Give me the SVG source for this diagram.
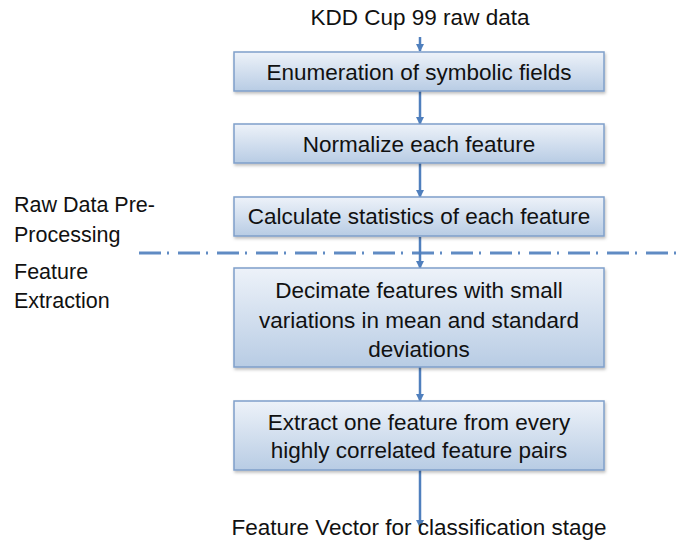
<svg xmlns="http://www.w3.org/2000/svg" width="681" height="542" viewBox="0 0 681 542">
<style>
text{font-family:"Liberation Sans",Arial,sans-serif;fill:#111;}
.t{font-size:22.5px;text-anchor:middle;}
.l{font-size:21.5px;}
.box{fill:url(#g);stroke:#7f9fca;stroke-width:1.5;filter:url(#sh);}
.arr{stroke:#4f7fbd;stroke-width:2.5;fill:none;marker-end:url(#ah);}
</style>
<defs>
<linearGradient id="g" x1="0" y1="0" x2="0" y2="1">
<stop offset="0" stop-color="#edf2f9"/>
<stop offset="1" stop-color="#b8cce4"/>
</linearGradient>
<filter id="sh" x="-5%" y="-10%" width="110%" height="130%">
<feDropShadow dx="1" dy="2" stdDeviation="1.5" flood-color="#000" flood-opacity="0.25"/>
</filter>
<marker id="ah" markerWidth="8" markerHeight="8" refX="7" refY="4" orient="auto" markerUnits="userSpaceOnUse" viewBox="0 0 8 8">
<path d="M0,0 L8,4 L0,8 Z" fill="#4f7fbd"/>
</marker>
</defs>
<g id="connectors">
<line class="arr" x1="420" y1="37" x2="420" y2="51"/>
<line class="arr" x1="420" y1="91" x2="420" y2="124"/>
<line class="arr" x1="420" y1="163" x2="420" y2="197"/>
<line class="arr" x1="420" y1="237" x2="420" y2="268"/>
<line class="arr" x1="420" y1="367" x2="420" y2="401"/>
<line class="arr" x1="420" y1="470" x2="420" y2="527"/>
</g>
<g id="divider">
<line x1="139" y1="253" x2="681" y2="253" stroke="#4f7fbd" stroke-width="3" stroke-dasharray="22 6 2 9" opacity="0.9"/>
</g>
<g id="input"><text class="t" x="420" y="25">KDD Cup 99 raw data</text></g>
<g id="n1"><rect class="box" x="234" y="52" width="370" height="39"/><text class="t" x="419" y="80">Enumeration of symbolic fields</text></g>
<g id="n2"><rect class="box" x="234" y="124" width="370" height="39"/><text class="t" x="419" y="152">Normalize each feature</text></g>
<g id="n3"><rect class="box" x="234" y="197" width="370" height="39"/><text class="t" x="419" y="224">Calculate statistics of each feature</text></g>
<g id="n4"><rect class="box" x="234" y="268" width="370" height="99"/><text class="t" x="419" y="298">Decimate features with small</text><text class="t" x="419" y="328">variations in mean and standard</text><text class="t" x="419" y="357">deviations</text></g>
<g id="n5"><rect class="box" x="234" y="401" width="370" height="69"/><text class="t" x="419" y="430">Extract one feature from every</text><text class="t" x="419" y="458">highly correlated feature pairs</text></g>
<g id="output"><text class="t" x="419" y="535">Feature Vector for classification stage</text></g>
<g id="labels">
<text class="l" x="14" y="212">Raw Data Pre-</text>
<text class="l" x="14" y="242">Processing</text>
<text class="l" x="14" y="279">Feature</text>
<text class="l" x="14" y="308">Extraction</text>
</g>
</svg>
